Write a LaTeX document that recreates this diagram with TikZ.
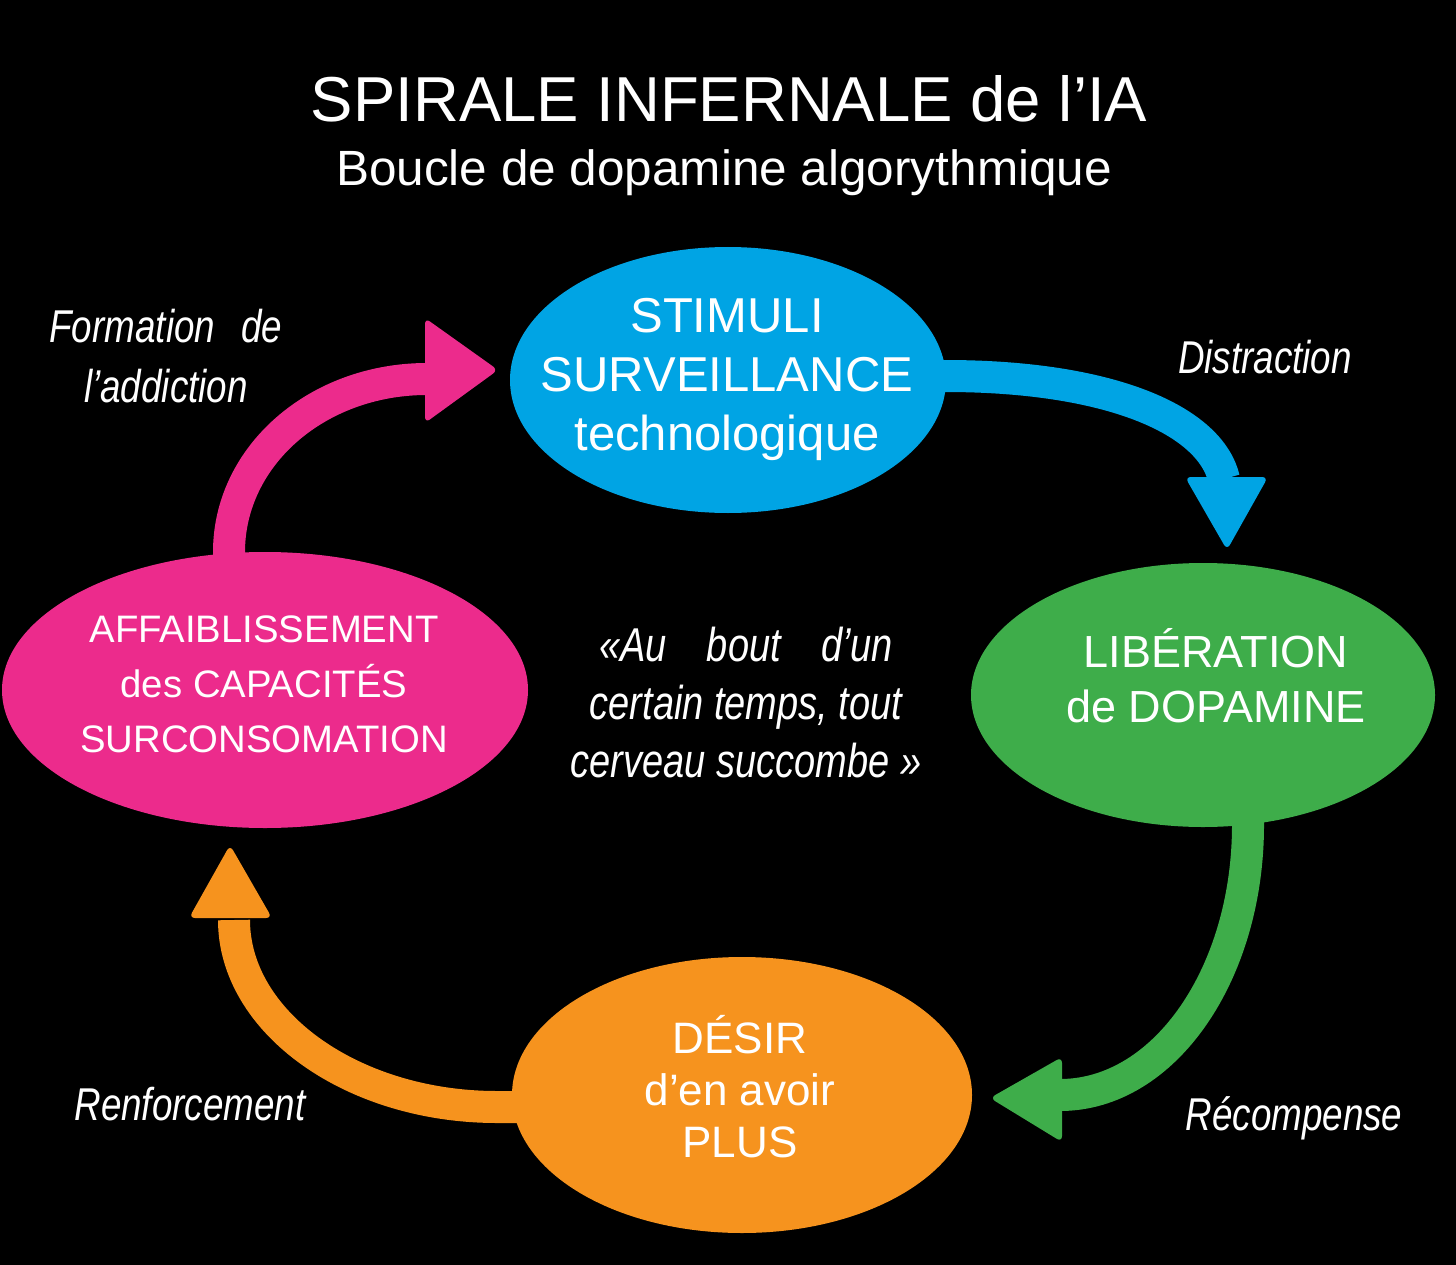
\documentclass[tikz,border=0pt]{standalone}
\usepackage{fontspec}
\setmainfont{Liberation Sans}
\newfontfamily\condfont[FakeStretch=0.8]{Liberation Sans}
\usetikzlibrary{shapes.geometric}
\definecolor{cblue}{RGB}{0,164,228}
\definecolor{cgreen}{RGB}{62,173,74}
\definecolor{corange}{RGB}{246,147,30}
\definecolor{cpink}{RGB}{236,43,140}
\begin{document}
\begin{tikzpicture}[x=1pt,y=-1pt,
  bubble/.style={ellipse, inner sep=0pt, draw=none},
  band/.style={line width=32pt, line cap=butt},
  headtip/.style={rounded corners=6pt},
  lbl/.style={text=white, inner sep=0pt, align=center, font=\condfont\itshape\fontsize{46}{60}\selectfont},
  btxt/.style={text=white, inner sep=0pt, align=center}
]
\fill[black] (0,0) rectangle (1456,1265);
\useasboundingbox (0,0) rectangle (1456,1265);

% title
\node[text=white, inner sep=0pt, anchor=base, font=\fontsize{63.5}{70}\selectfont] (title) at (729,122) {SPIRALE INFERNALE de l’IA};
\node[text=white, inner sep=0pt, anchor=base, font=\fontsize{49.5}{56}\selectfont] (subtitle) at (724,186) {Boucle de dopamine algorythmique};

% connector end points
\coordinate (pinkOut) at (229,580);
\coordinate (pinkHead) at (427,379);
\coordinate (blueOut) at (925,376);
\coordinate (blueHead) at (1224,479);
\coordinate (greenOut) at (1248,805);
\coordinate (greenHead) at (1060,1095);
\coordinate (orangeOut) at (530,1107);
\coordinate (orangeHead) at (234,920);

% bands
\draw[band, cpink] (pinkOut) -- (229,552) .. controls (229,456) and (317,379) .. (pinkHead);
\draw[band, cblue] (blueOut) -- (945,376) .. controls (1110,376) and (1210,420) .. (blueHead);
\draw[band, cgreen] (greenOut) -- (1248,825) .. controls (1248,973) and (1165,1095) .. (greenHead);
\draw[band, corange] (orangeOut) -- (497,1107) .. controls (352,1107) and (234,1022) .. (orangeHead);

% heads
\fill[cpink, headtip] (425,318) -- (498,370) -- (425,423) -- cycle;
\fill[cblue, headtip] (1185,477) -- (1227,550) -- (1268,477) -- cycle;
\fill[cgreen, headtip] (1062,1057) -- (990,1098) -- (1062,1142) -- cycle;
\fill[corange, headtip] (189,918) -- (230,845) -- (272,918) -- cycle;

% ellipses
\node[bubble, fill=cblue, minimum width=436pt, minimum height=266pt] (stimuli) at (728,380) {};
\node[bubble, fill=cgreen, minimum width=464pt, minimum height=264pt] (dopa) at (1203,695) {};
\node[bubble, fill=corange, minimum width=460pt, minimum height=276pt] (desir) at (742,1095) {};
\node[bubble, fill=cpink, minimum width=526pt, minimum height=276pt] (affai) at (265,690) {};

% ellipse texts
\node[btxt, font=\fontsize{49}{59}\selectfont] (stimulitxt) at (727,379) {STIMULI\\SURVEILLANCE\\technologique};
\node[btxt, font=\fontsize{45}{55}\selectfont] (dopatxt) at (1216,676) {LIBÉRATION\\de DOPAMINE};
\node[btxt, font=\fontsize{44}{52}\selectfont] (desirtxt) at (740,1087) {DÉSIR\\d’en avoir\\PLUS};
\node[btxt, font=\fontsize{38.3}{55}\selectfont] (affaitxt) at (264,684) {AFFAIBLISSEMENT\\des CAPACITÉS\\SURCONSOMATION};

% labels
\node[lbl] (formation) at (166,356) {\makebox[233pt]{Formation\hfill de}\\l’addiction};
\node[lbl, anchor=base] (distraction) at (1265,373) {Distraction};
\node[lbl, anchor=base] (recompense) at (1294,1130) {Récompense};
\node[lbl, anchor=base] (renforcement) at (190,1120) {Renforcement};
\node[lbl, font=\condfont\itshape\fontsize{47.5}{58}\selectfont] (quote) at (746,703) {\makebox[294pt]{«Au\hfill bout\hfill d’un}\\certain temps, tout\\cerveau succombe »};
\end{tikzpicture}
\end{document}
